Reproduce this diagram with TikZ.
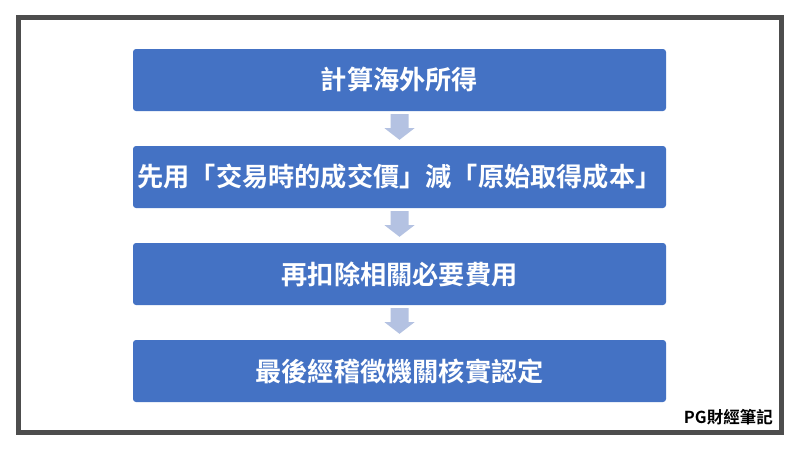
\documentclass[tikz,border=0pt]{standalone}
\usepackage{fontspec}
\newfontfamily\cjk{Noto Sans CJK TC}[BoldFont={* Bold}]
\definecolor{boxblue}{HTML}{4472C4}
\definecolor{arrowblue}{HTML}{B4C2E2}
\definecolor{framegrey}{HTML}{4D4D4D}
\begin{document}
\begin{tikzpicture}[x=1pt,y=-1pt,
  stepbox/.style={fill=boxblue,draw=none,rounded corners=3pt,minimum width=533pt,minimum height=62pt,inner sep=0pt,text=white,font=\cjk\bfseries\fontsize{26.2}{30}\selectfont},
  downarrow/.style={fill=arrowblue,draw=none}]
\useasboundingbox (0,0) rectangle (800,450);
\fill[white] (0,0) rectangle (800,450);
\draw[framegrey,line width=5pt] (18.5,17.5) rectangle (781.5,432.5);
\node[stepbox] (b1) at (399.5,80) {計算海外所得};
\node[stepbox] (b2) at (399.5,177) {先用「交易時的成交價」減「原始取得成本」};
\node[stepbox] (b3) at (399.5,274) {再扣除相關必要費用};
\node[stepbox] (b4) at (399.5,371) {最後經稽徵機關核實認定};
\foreach \i/\p/\q in {1/b1/b2,2/b2/b3,3/b3/b4}{
  \path[downarrow] ([shift={(-9,3)}]\p.south) -- ([shift={(9,3)}]\p.south) -- ([shift={(9,17)}]\p.south) -- ([shift={(15,17)}]\p.south) -- ([shift={(0,-6)}]\q.north) -- ([shift={(-15,17)}]\p.south) -- ([shift={(-9,17)}]\p.south) -- cycle;
}
\node[font=\cjk\bfseries\fontsize{16.5}{20}\selectfont,anchor=east,inner sep=0pt] (lbl) at (773,417) {PG財經筆記};
\end{tikzpicture}
\end{document}
